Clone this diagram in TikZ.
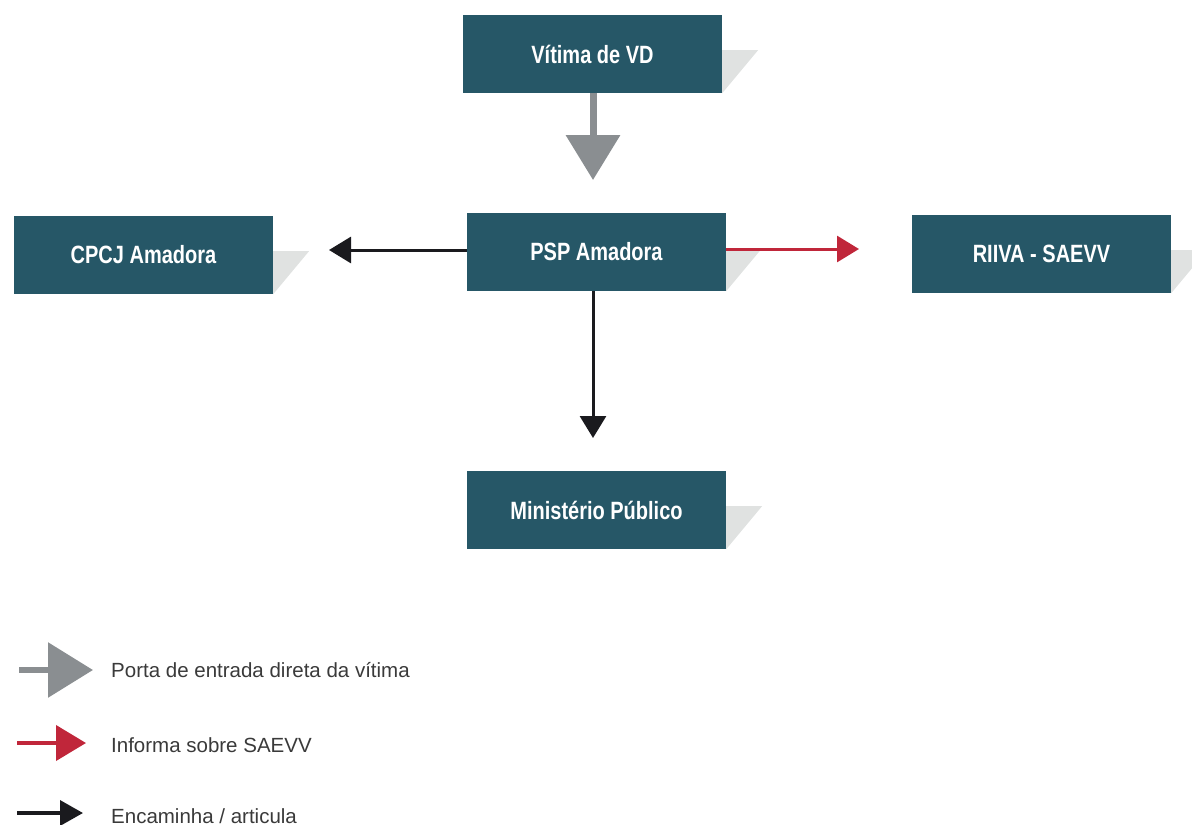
\documentclass[tikz,border=0pt]{standalone}
\usepackage{fontspec}
\setmainfont{Liberation Sans}
\newfontfamily\boxfont{Liberation Sans}[FakeStretch=0.8]
\usetikzlibrary{arrows.meta,calc}
\definecolor{boxc}{HTML}{265767}
\definecolor{shadc}{HTML}{E0E2E1}
\definecolor{grayarr}{HTML}{8A8E91}
\definecolor{redarr}{HTML}{C0263A}
\definecolor{blackarr}{HTML}{1A1A1E}
\definecolor{legtext}{HTML}{3A3A3A}
\tikzset{
  x=1pt, y=-1pt,
  box/.style={fill=boxc, text=white, minimum width=259pt, minimum height=78pt, inner sep=0pt,
    font=\boxfont\bfseries\fontsize{25}{30}\selectfont},
  legtxt/.style={anchor=west, text=legtext, inner sep=0pt, font=\fontsize{20.5}{24}\selectfont},
  grayhead/.style={-{Triangle[length=45pt,width=53pt]}, grayarr, line width=7pt},
  redhead/.style={-{Triangle[length=22pt,width=26pt]}, redarr, line width=3pt},
  blackhead/.style={-{Triangle[length=22pt,width=26pt]}, blackarr, line width=3pt},
  shadow/.style={fill=shadc}
}
\begin{document}
\begin{tikzpicture}
\useasboundingbox (0,0) rectangle (1192,825);
% shadows (drawn first, behind the boxes)
\coordinate (vdc) at (592.5,54);
\coordinate (cpcjc) at (143.5,255);
\coordinate (pspc) at (596.5,252);
\coordinate (riivac) at (1041.5,254);
\coordinate (mpc) at (596.5,510);
% boxes
\node[box] (vd)    at (vdc)    {Vítima de VD};
\node[box] (cpcj)  at (cpcjc)  {CPCJ Amadora};
\node[box] (psp)   at (pspc)   {PSP Amadora};
\node[box] (riiva) at (riivac) {RIIVA - SAEVV};
\node[box] (mp)    at (mpc)    {Ministério Público};
\foreach \n in {vd,cpcj,psp,riiva,mp}{
  \fill[shadow] ($(\n.east)+(0,-4)$) -- ($(\n.east)+(36,-4)$) -- (\n.south east) -- cycle;
}
% connectors
\coordinate (gtip) at (593,180);
\coordinate (ltip) at (329,250);
\coordinate (rtip) at (859,249);
\coordinate (dtip) at (593,438);
\draw[grayhead] (vd.south -| gtip) -- (gtip);
\draw[blackhead] (psp.west |- ltip) -- (ltip);
\draw[redhead] (psp.east |- rtip) -- (rtip);
\draw[blackhead] (psp.south -| dtip) -- (dtip);
% legend
\coordinate (l1a) at (19,670);  \coordinate (l1b) at (93,670);
\coordinate (l2a) at (17,743);  \coordinate (l2b) at (86,743);
\coordinate (l3a) at (17,813);  \coordinate (l3b) at (83,813);
\draw[-{Triangle[length=45pt,width=54pt]}, grayarr, line width=6pt] (l1a) -- (l1b);
\draw[-{Triangle[length=30pt,width=35pt]}, redarr, line width=4pt] (l2a) -- (l2b);
\draw[-{Triangle[length=23pt,width=25pt]}, blackarr, line width=3.5pt] (l3a) -- (l3b);
\node[legtxt] (t1) at (111,670) {Porta de entrada direta da vítima};
\node[legtxt] (t2) at (111,745) {Informa sobre SAEVV};
\node[legtxt] (t3) at (111,816) {Encaminha / articula};
\end{tikzpicture}
\end{document}
